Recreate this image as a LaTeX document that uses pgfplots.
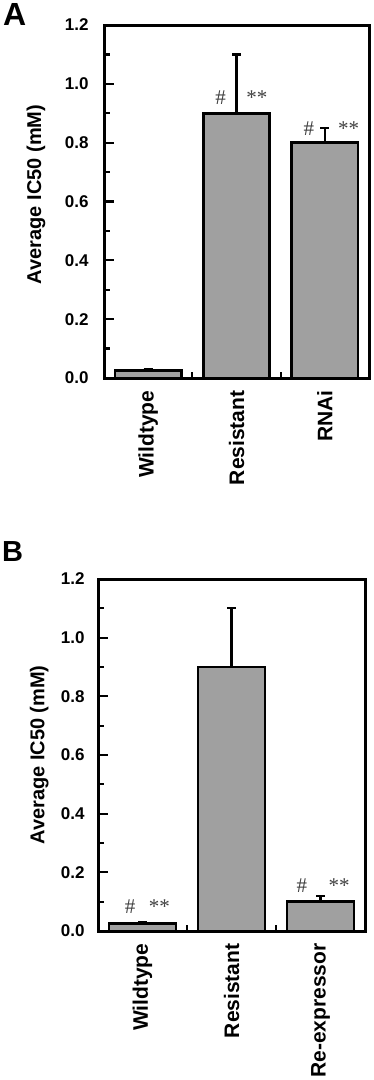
\documentclass[border=0pt]{standalone}
\usepackage{fontspec}
\setmainfont{Liberation Sans}
\newfontfamily\annfont{Liberation Serif}
\usepackage{pgfplots}
\pgfplotsset{compat=1.18}
\definecolor{barfill}{HTML}{A0A0A0}
\definecolor{anncol}{HTML}{404040}
\tikzset{ann/.style={anchor=base, text=anncol, font=\annfont\fontsize{21}{24}\selectfont}}
\pgfplotsset{
 panel/.style={
  scale only axis,
  xmin=-0.5, xmax=2.5, ymin=0, ymax=1.2,
  ybar, bar width=0.75,
  axis line style={line width=3pt},
  tick align=inside, xtick pos=bottom, ytick pos=left,
  ytick={0,0.2,0.4,0.6,0.8,1.0,1.2}, minor y tick num=1,
  major tick length=10pt, minor tick length=6pt,
  every tick/.style={black, line width=2.2pt},
  yticklabel style={font=\fontsize{17}{20}\selectfont\bfseries,
    /pgf/number format/fixed, /pgf/number format/fixed zerofill,
    /pgf/number format/precision=1, /pgf/number format/assume math mode=true},
  xtick={0.5,1.5}, xticklabels={},
  xtick style={/pgfplots/major tick length=6pt},
  extra x ticks={0,1,2},
  extra x tick style={major tick length=0pt,
    tick label style={rotate=90, anchor=east, xshift=-9pt,
      font=\fontsize{21}{24}\selectfont\bfseries}},
  ylabel={Average IC50 (mM)},
 },
}
\begin{document}
\begin{tikzpicture}
\useasboundingbox (0,0) rectangle (374pt,-1080pt);
\node[anchor=north west, inner sep=0pt, font=\fontsize{32}{32}\selectfont\bfseries] at (3pt,-3pt) {A};
\node[anchor=north west, inner sep=0pt, font=\fontsize{29}{29}\selectfont\bfseries] at (2pt,-541pt) {B};

\begin{axis}[panel, width=265pt, height=353pt, at={(104pt,-378pt)}, anchor=south west,
  extra x tick labels={Wildtype,Resistant,RNAi},
  yticklabel style={xshift=-12pt},
  ylabel style={font=\fontsize{20}{24}\selectfont\bfseries, at={(axis description cs:-0.257,0.52)}, anchor=center}]
\addplot[fill=barfill, draw=black, line width=2.6pt,
  error bars/.cd, y dir=plus, y explicit,
  error bar style={line width=2.2pt, black},
  error mark options={rotate=90, mark size=4.5pt, line width=2.2pt, black}]
  coordinates {(0,0.025) +- (0,0.005) (1,0.9) +- (0,0.2) (2,0.8) +- (0,0.05)};
\node[ann] at (axis cs:0.82,0.931) {\#};
\node[ann] at (axis cs:1.23,0.931) {**};
\node[ann] at (axis cs:1.82,0.826) {\#};
\node[ann] at (axis cs:2.27,0.826) {**};
\end{axis}

\begin{axis}[panel, width=267pt, height=352pt, at={(98pt,-931pt)}, anchor=south west,
  extra x tick labels={Wildtype,Resistant,Re-expressor},
  yticklabel style={xshift=-10pt},
  ylabel style={font=\fontsize{20}{24}\selectfont\bfseries, at={(axis description cs:-0.22,0.5)}, anchor=center}]
\addplot[fill=barfill, draw=black, line width=2.6pt,
  error bars/.cd, y dir=plus, y explicit,
  error bar style={line width=2.2pt, black},
  error mark options={rotate=90, mark size=4.5pt, line width=2.2pt, black}]
  coordinates {(0,0.025) +- (0,0.005) (1,0.9) +- (0,0.2) (2,0.1) +- (0,0.02)};
\node[ann] at (axis cs:-0.14,0.061) {\#};
\node[ann] at (axis cs:0.19,0.061) {**};
\node[ann] at (axis cs:1.79,0.13) {\#};
\node[ann] at (axis cs:2.21,0.13) {**};
\end{axis}
\end{tikzpicture}
\end{document}
